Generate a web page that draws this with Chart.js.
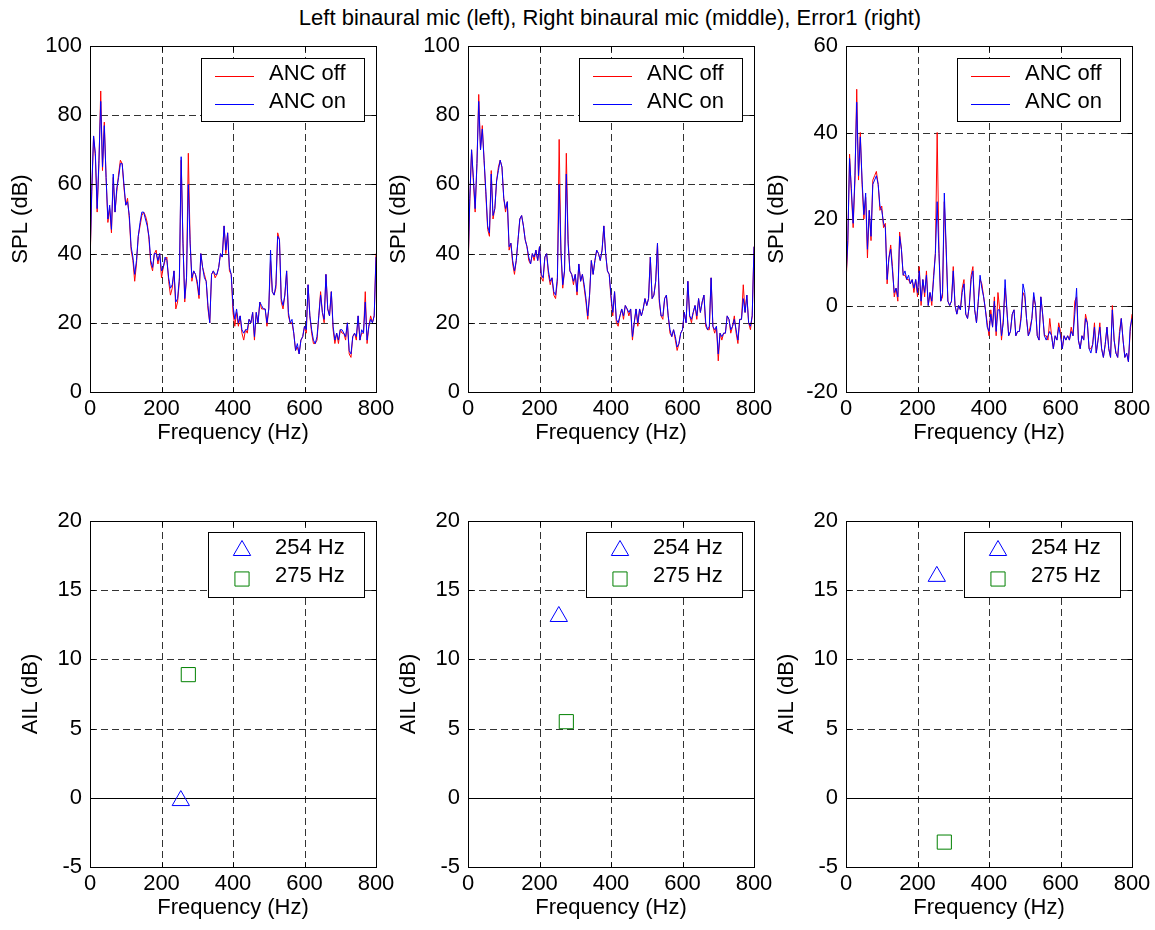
<!DOCTYPE html>
<html>
<head>
<meta charset="utf-8">
<title>ANC binaural spectra</title>
<script src="https://cdn.jsdelivr.net/npm/chart.js@4.4.1/dist/chart.umd.min.js"></script>
<style>
  body { margin: 0; background: #fff; width: 1155px; height: 930px; position: relative; overflow: hidden;
         font-family: "Liberation Sans", Arial, sans-serif; }
  #title { position: absolute; top: 5px; left: 0; width: 1220px; text-align: center;
           font-size: 22px; line-height: 26px; color: #000; }
  canvas { position: absolute; }
</style>
</head>
<body>
<div id="title">Left binaural mic (left), Right binaural mic (middle), Error1 (right)</div>
<canvas id="c1"></canvas>
<canvas id="c2"></canvas>
<canvas id="c3"></canvas>
<canvas id="c4"></canvas>
<canvas id="c5"></canvas>
<canvas id="c6"></canvas>
<script>
// frequency bins (Hz)
const freq = [
  0, 5, 10, 15, 20, 25, 30, 35, 40, 45, 50, 55, 60, 65, 70, 75, 80, 85, 90, 95,
  100, 105, 110, 115, 120, 125, 130, 135, 140, 145, 150, 155, 160, 165, 170, 175, 180, 185, 190, 195,
  200, 205, 210, 215, 220, 225, 230, 235, 240, 245, 250, 255, 260, 265, 270, 275, 280, 285, 290, 295,
  300, 305, 310, 315, 320, 325, 330, 335, 340, 345, 350, 355, 360, 365, 370, 375, 380, 385, 390, 395,
  400, 405, 410, 415, 420, 425, 430, 435, 440, 445, 450, 455, 460, 465, 470, 475, 480, 485, 490, 495,
  500, 505, 510, 515, 520, 525, 530, 535, 540, 545, 550, 555, 560, 565, 570, 575, 580, 585, 590, 595,
  600, 605, 610, 615, 620, 625, 630, 635, 640, 645, 650, 655, 660, 665, 670, 675, 680, 685, 690, 695,
  700, 705, 710, 715, 720, 725, 730, 735, 740, 745, 750, 755, 760, 765, 770, 775, 780, 785, 790, 795, 800
];

// SPL (dB), left binaural mic
const leftOff = [
  36, 58, 74, 68, 52, 66, 87, 64, 78, 62, 49, 53, 46, 62, 52, 58, 63, 67, 66, 59,
  54, 56, 50, 41, 38, 32, 37, 45, 48, 51, 52, 51, 49, 44, 37, 35, 40, 41, 37, 40,
  33, 36, 38, 39, 32, 28, 30, 35, 24, 26, 32, 67, 44, 26, 33, 69, 44, 32, 35, 34,
  31, 27, 40, 36, 34, 32, 24, 20, 34, 35, 33, 34, 36, 40, 39, 48, 40, 46, 35, 34,
  23, 19, 23, 19, 22, 17, 15, 18, 17, 21, 20, 23, 15, 23, 20, 26, 24, 24, 24, 19,
  24, 38, 29, 28, 30, 46, 44, 26, 24, 28, 35, 22, 20, 20, 17, 12, 13, 11, 15, 16,
  19, 17, 31, 22, 17, 14, 14, 15, 22, 29, 23, 20, 34, 24, 22, 29, 18, 14, 17, 14,
  18, 17, 17, 15, 20, 11, 10, 16, 17, 15, 22, 15, 17, 17, 29, 14, 19, 22, 20, 22, 40
];
const leftOn = [
  37, 59, 74, 69, 53, 67, 84, 65, 77, 62, 50, 54, 47, 63, 52, 59, 62, 66, 66, 60,
  54, 55, 51, 42, 39, 34, 38, 45, 49, 52, 52, 50, 48, 45, 38, 36, 40, 40, 38, 40,
  35, 36, 39, 38, 33, 30, 31, 35, 26, 27, 33, 68, 43, 27, 33, 60, 43, 33, 35, 34,
  32, 28, 40, 36, 33, 32, 25, 20, 34, 35, 34, 34, 36, 40, 39, 48, 41, 46, 36, 34,
  25, 21, 24, 20, 22, 18, 17, 18, 18, 21, 20, 23, 16, 23, 20, 26, 25, 24, 24, 20,
  24, 41, 29, 28, 31, 45, 44, 27, 25, 28, 35, 23, 20, 21, 17, 12, 14, 11, 15, 16,
  19, 18, 31, 22, 18, 15, 14, 16, 22, 28, 23, 21, 34, 24, 22, 29, 19, 15, 17, 15,
  18, 18, 17, 16, 20, 12, 11, 16, 17, 16, 22, 15, 18, 17, 26, 15, 19, 21, 20, 22, 39
];

// SPL (dB), right binaural mic
const rightOff = [
  34, 55, 70, 61, 52, 66, 86, 70, 77, 67, 57, 47, 45, 64, 50, 53, 61, 65, 67, 65,
  56, 52, 55, 41, 43, 37, 34, 38, 44, 50, 51, 48, 44, 42, 38, 37, 40, 38, 41, 38,
  42, 33, 32, 39, 40, 34, 31, 33, 28, 27, 32, 73, 40, 30, 35, 69, 44, 35, 34, 31,
  34, 28, 37, 32, 34, 30, 26, 21, 28, 38, 34, 38, 41, 40, 38, 41, 48, 40, 35, 34,
  27, 22, 29, 20, 19, 22, 24, 21, 25, 24, 22, 24, 15, 20, 24, 19, 24, 22, 24, 27,
  25, 27, 39, 27, 28, 32, 43, 26, 22, 21, 27, 28, 22, 17, 16, 18, 15, 12, 14, 17,
  18, 23, 20, 32, 22, 20, 23, 25, 21, 27, 23, 26, 28, 19, 18, 18, 33, 19, 17, 19,
  9, 17, 15, 17, 17, 22, 21, 17, 19, 22, 17, 14, 21, 21, 31, 23, 28, 20, 18, 22, 42
];
const rightOn = [
  35, 56, 70, 62, 53, 66, 84, 70, 76, 67, 58, 48, 46, 63, 51, 53, 61, 64, 67, 65,
  56, 53, 55, 42, 43, 38, 35, 38, 44, 50, 51, 48, 44, 42, 39, 37, 40, 39, 41, 38,
  42, 34, 33, 39, 40, 35, 32, 33, 29, 28, 33, 60, 41, 31, 35, 63, 43, 35, 34, 32,
  34, 29, 37, 32, 34, 31, 27, 22, 28, 38, 34, 38, 41, 40, 38, 41, 48, 40, 35, 34,
  28, 23, 29, 21, 20, 22, 24, 22, 25, 24, 23, 24, 16, 20, 24, 20, 24, 22, 24, 27,
  25, 27, 39, 27, 28, 32, 43, 27, 22, 22, 27, 28, 22, 18, 16, 18, 16, 13, 14, 17,
  18, 23, 20, 32, 22, 21, 23, 25, 22, 27, 23, 26, 28, 20, 18, 19, 33, 19, 18, 19,
  11, 17, 16, 17, 17, 22, 21, 18, 19, 21, 18, 15, 21, 21, 27, 23, 28, 20, 19, 22, 42
];

// SPL (dB), Error1 mic
const errOff = [
  5, 14, 35, 26, 18, 29, 50, 29, 40, 28, 20, 25, 11, 22, 15, 29, 30, 31, 28, 22,
  23, 18, 19, 5, 11, 14, 9, 2, 4, 1, 17, 13, 7, 7, 6, 6, 5, 6, 3, 6,
  2, 9, 0, 6, 2, 8, 0, 3, 0, 7, 12, 40, 13, 1, 2, 24, 13, 1, 0, 1,
  9, 0, -2, 0, -1, 4, 6, -2, -3, 0, 7, 9, -1, -4, 1, 6, 5, 2, -1, -4,
  -7, -1, -5, 2, -7, 3, -1, -8, -3, 4, -1, -7, -6, -2, -1, -7, -6, -6, -2, 3,
  2, -3, -7, -5, -3, 2, 0, -7, -8, 2, -2, -7, -7, -8, -3, -7, -10, -7, -8, -4,
  -6, -10, -7, -8, -7, -8, -5, -7, 1, 2, -8, -10, -7, -8, -2, -4, -10, -10, -9, -4,
  -11, -8, -4, -10, -12, -9, -5, -10, -12, 0, -8, -11, -12, -6, -3, -8, -12, -11, -13, -6, -2
];
const errOn = [
  6, 15, 34, 27, 19, 30, 47, 30, 39, 29, 21, 26, 13, 22, 16, 28, 29, 30, 28, 23,
  22, 19, 18, 6, 11, 13, 8, 3, 4, 2, 16, 13, 7, 8, 6, 7, 5, 6, 4, 6,
  3, 8, 1, 6, 3, 7, 0, 3, 1, 6, 12, 24, 12, 1, 3, 26, 14, 1, 0, 1,
  8, 0, -2, 0, -1, 3, 5, -2, -3, 0, 6, 8, -1, -4, 1, 7, 4, 2, -1, -5,
  -6, -2, -5, 1, -6, -1, -1, -7, -4, 6, -1, -7, -6, -2, -1, -7, -6, -6, -3, 5,
  3, -3, -7, -6, -3, 3, 0, -7, -8, 2, -2, -7, -8, -7, -6, -7, -10, -7, -8, -5,
  -7, -10, -7, -8, -7, -8, -6, -7, -2, 4, -8, -10, -7, -8, -3, -4, -10, -11, -9, -5,
  -11, -8, -5, -10, -12, -9, -5, -10, -12, -1, -8, -11, -12, -7, -3, -8, -12, -11, -13, -5, -3
];

// AIL (dB) at the two tones, for left mic, right mic, Error1
const toneFreq = [254, 275];
const toneLabels = ['254 Hz', '275 Hz'];
const ail254 = [-0.2, 13.1, 16.0];
const ail275 = [8.9, 5.5, -3.2];

const OFF_COLOR = '#ff0000';
const ON_COLOR = '#0000ff';
const FONT = { family: '"Liberation Sans", Arial, sans-serif', size: 22 };

function pts(ys) {
  return freq.map((f, i) => ({ x: f, y: ys[i] }));
}

// same geometry as Chart.js uses for its point styles
function marker(ctx, style, x, y, r) {
  ctx.beginPath();
  if (style === 'triangle') {
    ctx.moveTo(x, y - r);
    ctx.lineTo(x + 0.866 * r, y + 0.5 * r);
    ctx.lineTo(x - 0.866 * r, y + 0.5 * r);
    ctx.closePath();
  } else {
    const s = Math.SQRT1_2 * r;
    ctx.rect(x - s, y - s, 2 * s, 2 * s);
  }
  ctx.stroke();
}

// dashed grid, box, inward ticks, zero line and the legend inside the axes
const framePlugin = {
  id: 'frame',
  beforeDatasetsDraw(chart, args, opts) {
    const { ctx, chartArea: a, scales } = chart;
    ctx.save();
    ctx.strokeStyle = '#333';
    ctx.lineWidth = 1;
    ctx.setLineDash([7, 4]);
    ctx.beginPath();
    scales.x.ticks.forEach(tk => {
      if (tk.value === scales.x.min || tk.value === scales.x.max) return;
      const x = Math.round(scales.x.getPixelForValue(tk.value)) + 0.5;
      ctx.moveTo(x, a.top);
      ctx.lineTo(x, a.bottom);
    });
    scales.y.ticks.forEach(tk => {
      if (tk.value === scales.y.min || tk.value === scales.y.max) return;
      const y = Math.round(scales.y.getPixelForValue(tk.value)) + 0.5;
      ctx.moveTo(a.left, y);
      ctx.lineTo(a.right, y);
    });
    ctx.stroke();
    ctx.setLineDash([]);
    if (opts.zero) {
      const y = Math.round(scales.y.getPixelForValue(0)) + 0.5;
      ctx.strokeStyle = '#000';
      ctx.beginPath();
      ctx.moveTo(a.left, y);
      ctx.lineTo(a.right, y);
      ctx.stroke();
    }
    ctx.restore();
  },
  afterDraw(chart, args, opts) {
    const { ctx, chartArea: a, scales } = chart;
    const l = Math.round(a.left) + 0.5, r = Math.round(a.right) + 0.5;
    const t = Math.round(a.top) + 0.5, b = Math.round(a.bottom) + 0.5;
    ctx.save();
    ctx.strokeStyle = '#000';
    ctx.lineWidth = 1;
    ctx.strokeRect(l, t, r - l, b - t);
    ctx.beginPath();
    scales.x.ticks.forEach(tk => {
      const x = Math.round(scales.x.getPixelForValue(tk.value)) + 0.5;
      ctx.moveTo(x, b); ctx.lineTo(x, b - 5);
      ctx.moveTo(x, t); ctx.lineTo(x, t + 5);
    });
    scales.y.ticks.forEach(tk => {
      const y = Math.round(scales.y.getPixelForValue(tk.value)) + 0.5;
      ctx.moveTo(l, y); ctx.lineTo(l + 5, y);
      ctx.moveTo(r, y); ctx.lineTo(r - 5, y);
    });
    ctx.stroke();

    const lg = opts.legend;
    if (lg) {
      const x0 = Math.round(a.left + lg.left) + 0.5, x1 = Math.round(a.right - lg.right) + 0.5;
      const y0 = Math.round(a.top + lg.top) + 0.5, y1 = Math.round(a.top + lg.bottom) + 0.5;
      ctx.fillStyle = '#fff';
      ctx.fillRect(x0, y0, x1 - x0, y1 - y0);
      ctx.strokeStyle = '#000';
      ctx.lineWidth = 1;
      ctx.strokeRect(x0, y0, x1 - x0, y1 - y0);
      ctx.font = '22px "Liberation Sans", Arial, sans-serif';
      ctx.textBaseline = 'middle';
      const items = chart.data.datasets.filter(ds => ds.label);
      items.forEach((ds, i) => {
        const yy = a.top + lg.rows[i];
        const col = String(ds.borderColor);
        if (lg.kind === 'line') {
          const ly = Math.round(yy + 1.5) + 0.5;
          ctx.beginPath();
          ctx.strokeStyle = col;
          ctx.lineWidth = 1;
          ctx.moveTo(Math.round(a.left + lg.s0), ly);
          ctx.lineTo(Math.round(a.left + lg.s1), ly);
          ctx.stroke();
        } else {
          ctx.strokeStyle = col;
          ctx.lineWidth = 1;
          const my = ds.pointStyle === 'triangle' ? yy + 2.5 : yy + 3;
          marker(ctx, ds.pointStyle, a.left + lg.mx, my, ds.pointRadius);
        }
        ctx.fillStyle = '#000';
        ctx.fillText(ds.label, a.left + lg.tx, yy);
      });
    }
    ctx.restore();
  }
};

const topLegend = { kind: 'line', left: 111, right: 12, top: 12, bottom: 75, rows: [28, 56], s0: 125, s1: 164, tx: 179 };
const botLegend = { kind: 'marker', left: 118, right: 12, top: 11, bottom: 76, rows: [27, 55], mx: 152, tx: 185 };

function makeChart(id, box, yAxis, datasets, type, frame) {
  const cv = document.getElementById(id);
  cv.width = box.w;
  cv.height = box.h;
  cv.style.left = box.x + 'px';
  cv.style.top = box.y + 'px';
  return new Chart(cv, {
    type: type,
    data: { datasets: datasets },
    plugins: [framePlugin],
    options: {
      responsive: false,
      animation: false,
      devicePixelRatio: 1,
      layout: { padding: { top: 24, right: 24, left: 0, bottom: 0 } },
      plugins: { legend: { display: false }, tooltip: { enabled: false }, frame: frame },
      scales: {
        x: {
          type: 'linear', min: 0, max: 800,
          ticks: { stepSize: 200, color: '#000', font: FONT, padding: 4, maxRotation: 0 },
          grid: { display: false, drawTicks: false },
          border: { display: false },
          title: { display: true, text: 'Frequency (Hz)', color: '#000', font: FONT, padding: { top: 0, bottom: 0 } },
          afterFit(s) { s.height = 54; }
        },
        y: {
          type: 'linear', min: yAxis.min, max: yAxis.max,
          ticks: { stepSize: yAxis.step, color: '#000', font: FONT, padding: 8 },
          grid: { display: false, drawTicks: false },
          border: { display: false },
          title: { display: true, text: yAxis.title, color: '#000', font: FONT, padding: { top: 0, bottom: 0 } },
          afterFit(s) { s.width = yAxis.w; }
        }
      }
    }
  });
}

function spectrum(off, on) {
  return [
    { label: 'ANC off', data: pts(off), borderColor: OFF_COLOR, borderWidth: 1, pointRadius: 0, tension: 0, order: 2 },
    { label: 'ANC on', data: pts(on), borderColor: ON_COLOR, borderWidth: 1, pointRadius: 0, tension: 0, order: 1 }
  ];
}

function tones(i) {
  return [
    { label: toneLabels[0], data: [{ x: toneFreq[0], y: ail254[i] }], pointStyle: 'triangle', pointRadius: 10,
      borderColor: '#0000ff', backgroundColor: 'rgba(0,0,0,0)', borderWidth: 1 },
    { label: toneLabels[1], data: [{ x: toneFreq[1], y: ail275[i] }], pointStyle: 'rect', pointRadius: 10,
      borderColor: '#008000', backgroundColor: 'rgba(0,0,0,0)', borderWidth: 1 }
  ];
}

const splA = { min: 0, max: 100, step: 20, title: 'SPL (dB)', w: 82 };
const splB = { min: -20, max: 60, step: 20, title: 'SPL (dB)', w: 82 };
const ail = { min: -5, max: 20, step: 5, title: 'AIL (dB)', w: 72 };

// chart areas: columns start at x = 90, 468, 846 (286 wide); rows at y = 46 and 521 (346 high)
makeChart('c1', { x: 8, y: 22, w: 392, h: 424 }, splA, spectrum(leftOff, leftOn), 'line', { legend: topLegend });
makeChart('c2', { x: 386, y: 22, w: 392, h: 424 }, splA, spectrum(rightOff, rightOn), 'line', { legend: topLegend });
makeChart('c3', { x: 764, y: 22, w: 392, h: 424 }, splB, spectrum(errOff, errOn), 'line', { legend: topLegend });
makeChart('c4', { x: 18, y: 497, w: 382, h: 424 }, ail, tones(0), 'scatter', { legend: botLegend, zero: true });
makeChart('c5', { x: 396, y: 497, w: 382, h: 424 }, ail, tones(1), 'scatter', { legend: botLegend, zero: true });
makeChart('c6', { x: 774, y: 497, w: 382, h: 424 }, ail, tones(2), 'scatter', { legend: botLegend, zero: true });
</script>
</body>
</html>
